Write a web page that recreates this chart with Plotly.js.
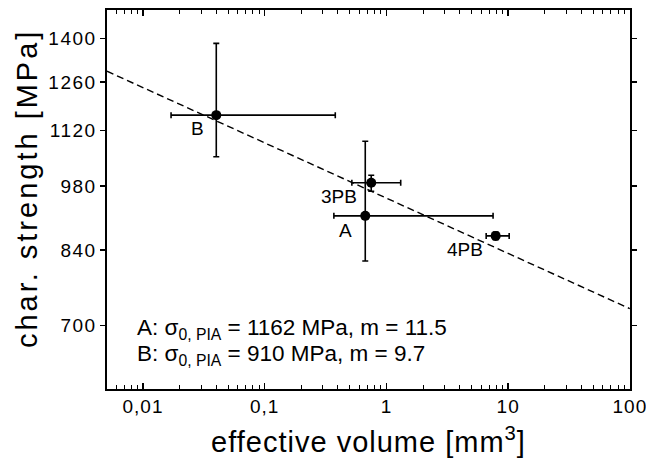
<!DOCTYPE html>
<html><head><meta charset="utf-8">
<script src="https://cdn.plot.ly/plotly-3.0.1.min.js"></script>
<style>
html,body{margin:0;padding:0;background:#fff}
.xtick text{letter-spacing:1px}
.ytick text{letter-spacing:1.5px}
.g-xtitle text{letter-spacing:1px}
.annotation[data-index="6"] text{letter-spacing:3px}
</style>
</head><body>
<div id="chart" style="width:646px;height:463px"></div>
<script>
// data
const names   = ["B", "3PB", "A", "4PB"];
const volume  = [0.04, 0.75, 0.67, 7.9];
const volPlus = [0.34, 0.56, 6.85, 2.3];
const volMinus= [0.023, 0.23, 0.30, 1.3];
const strength= [1163, 988, 912, 869];
const strPlus = [220, 18, 180, 8];
const strMinus= [111, 20, 94, 8];
const fitX = [0.00506, 100];
const fitY = [1293, 729];
const xTickVals = [0.01, 0.1, 1, 10, 100];
const xTickText = ["0,01", "0,1", "1", "10", "100"];
const yTickVals = [700, 840, 980, 1120, 1260, 1400];
const labelShift = [[-19,-13],[-32,-14],[-20,-15],[-31,-14]];

// minor tick positions on the log x axis (2..9 in each decade)
const minorVals = [];
for (let d = -3; d <= 1; d++) for (let k = 2; k <= 9; k++) minorVals.push(k * Math.pow(10, d));

const font = "Arial, 'Liberation Sans', sans-serif";
const traces = [
  {x: fitX, y: fitY, mode: 'lines', type: 'scatter',
   line: {color: '#000', dash: '7px,4px', width: 1.4}, hoverinfo: 'skip'},
  {x: volume, y: strength, mode: 'markers', type: 'scatter',
   marker: {color: '#000', size: 10},
   error_x: {type: 'data', symmetric: false, array: volPlus, arrayminus: volMinus, color: '#000', thickness: 1.6, width: 3},
   error_y: {type: 'data', symmetric: false, array: strPlus, arrayminus: strMinus, color: '#000', thickness: 1.6, width: 3}}
];
const annotations = names.map((n, i) => ({
  x: Math.log10(volume[i]), y: Math.log10(strength[i]), xref: 'x', yref: 'y',
  text: n, showarrow: false, xshift: labelShift[i][0], yshift: labelShift[i][1],
  font: {family: font, size: 19, color: '#000'}
}));
annotations.push({xref: 'paper', yref: 'paper', x: 0.053, y: 0.157, xanchor: 'left', yanchor: 'middle', showarrow: false,
  text: "A: σ<sub>0, PIA</sub> = 1162 MPa, m = 11.5", font: {family: font, size: 22.5, color: '#000'}});
annotations.push({xref: 'paper', yref: 'paper', x: 0.053, y: 0.089, xanchor: 'left', yanchor: 'middle', showarrow: false,
  text: "B: σ<sub>0, PIA</sub> = 910 MPa, m = 9.7", font: {family: font, size: 22.5, color: '#000'}});
annotations.push({xref: 'paper', yref: 'paper', x: -0.153, y: 0.53, xanchor: 'center', yanchor: 'middle', showarrow: false,
  textangle: -90, text: "char. strength [MPa]", font: {family: font, size: 29, color: '#000'}});

const layout = {
  width: 646, height: 463,
  margin: {l: 107, r: 16, t: 10, b: 74},
  paper_bgcolor: '#fff', plot_bgcolor: '#fff',
  showlegend: false,
  font: {family: font, size: 20, color: '#000'},
  xaxis: {type: 'log', range: [Math.log10(0.00506), Math.log10(100.3)], tickmode: 'array', tickvals: xTickVals, ticktext: xTickText,
    ticks: 'inside', ticklen: 6, tickwidth: 1.3, tickcolor: '#000', ticklabeloverflow: 'allow',
    minor: {tickmode: 'array', tickvals: minorVals, ticks: 'inside', ticklen: 4, tickwidth: 1, tickcolor: '#000', showgrid: false},
    showline: true, linecolor: '#000', linewidth: 1.6, mirror: 'ticks', showgrid: false, zeroline: false,
    tickfont: {size: 19}, title: {text: 'effective volume [mm<sup>3</sup>]', font: {size: 29}, standoff: 15}},
  yaxis: {type: 'log', range: [Math.log10(600.5), Math.log10(1499)], tickmode: 'array', tickvals: yTickVals,
    ticks: 'outside', ticklen: 5, tickwidth: 1.3, tickcolor: '#000',
    showline: true, linecolor: '#000', linewidth: 1.6, mirror: 'ticks', showgrid: false, zeroline: false,
    tickfont: {size: 19}},
  annotations: annotations
};
Plotly.newPlot('chart', traces, layout, {displayModeBar: false, staticPlot: true});
</script>
</body></html>
